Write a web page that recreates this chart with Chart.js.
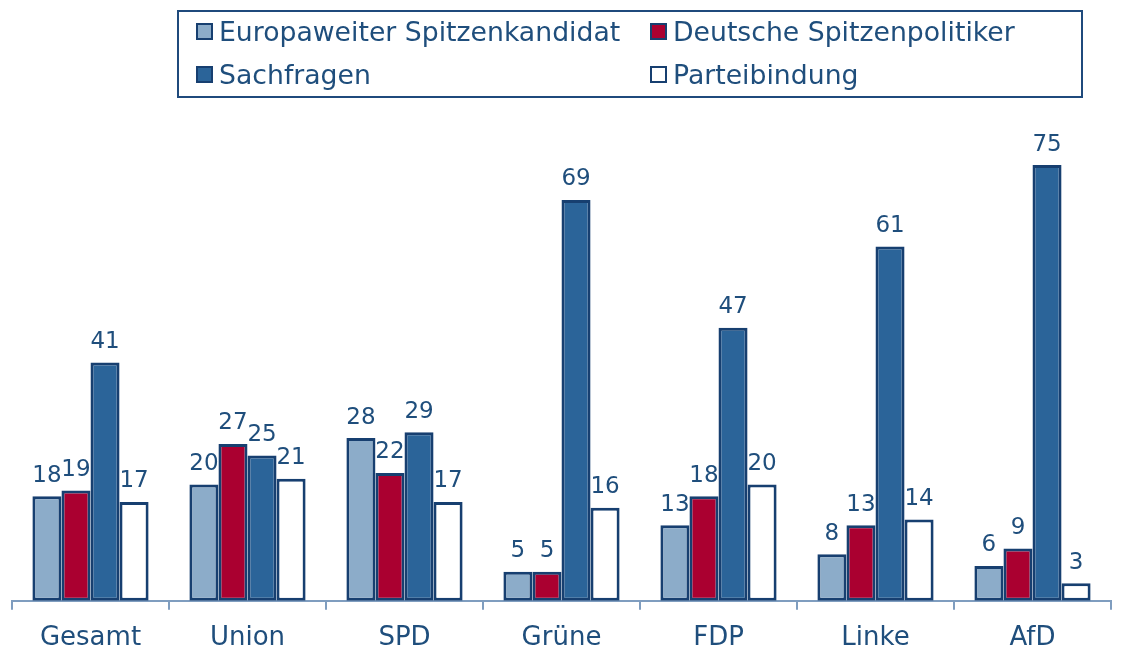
<!DOCTYPE html>
<html>
<head>
<meta charset="utf-8">
<script src="https://cdn.jsdelivr.net/npm/chart.js@4"></script>
<style>
  body { margin: 0; background: #fff; font-family: "DejaVu Sans", Verdana, sans-serif; }
  #wrap { position: relative; width: 1131px; height: 652px; overflow: hidden; }
  #legend {
    position: absolute; left: 177px; top: 10px; width: 902px; height: 84px;
    border: 2px solid #1f4a7c; color: #1f4e7c; font-size: 26.7px;
  }
  .item { position: absolute; height: 30px; line-height: 30px; white-space: nowrap; }
  .sw { display: inline-block; width: 13px; height: 13px; border: 2px solid #173f70; margin-right: 6px; vertical-align: 1px; }
</style>
</head>
<body>
<div id="wrap">
  <canvas id="chart" width="1131" height="652"></canvas>
  <div id="legend"></div>
</div>
<script>
const categories = ["Gesamt", "Union", "SPD", "Grüne", "FDP", "Linke", "AfD"];
const seriesNames = ["Europaweiter Spitzenkandidat", "Deutsche Spitzenpolitiker", "Sachfragen", "Parteibindung"];
const kandidat = [18, 20, 28, 5, 13, 8, 6];
const politiker = [19, 27, 22, 5, 18, 13, 9];
const sachfragen = [41, 25, 29, 69, 47, 61, 75];
const parteibindung = [17, 21, 17, 16, 20, 14, 3];

const fills = ["#8cacc9", "#aa0030", "#2b6499", "#ffffff"];
const edge = "#173f70";
const textColor = "#1f4e7c";

// legend (2 columns, boxed)
const legendPos = [[17, 5], [471, 5], [17, 48], [471, 48]];
const legendEl = document.getElementById("legend");
seriesNames.forEach((name, i) => {
    const d = document.createElement("div");
    d.className = "item";
    d.style.left = legendPos[i][0] + "px";
    d.style.top = legendPos[i][1] + "px";
    d.innerHTML = `<span class="sw" style="background:${fills[i]}"></span>${name}`;
    legendEl.appendChild(d);
});

const valueLabels = {
    id: "valueLabels",
    afterDatasetsDraw(chart) {
        const ctx = chart.ctx;
        ctx.save();
        ctx.font = "23px 'DejaVu Sans'";
        ctx.fillStyle = textColor;
        ctx.textAlign = "center";
        ctx.textBaseline = "bottom";
        chart.data.datasets.forEach((ds, i) => {
            chart.getDatasetMeta(i).data.forEach((bar, j) => {
                ctx.fillText(ds.data[j], bar.x, bar.y - 9);
            });
        });
        ctx.restore();
    }
};

const allData = [kandidat, politiker, sachfragen, parteibindung];

new Chart(document.getElementById("chart"), {
    type: "bar",
    data: {
        labels: categories,
        datasets: allData.map((d, i) => ({
            label: seriesNames[i],
            data: d,
            backgroundColor: fills[i],
            borderColor: edge,
            borderWidth: 3,
            borderSkipped: false,
            barPercentage: 1,
            categoryPercentage: 0.74
        }))
    },
    options: {
        responsive: false,
        animation: false,
        layout: { padding: { left: 12, right: 20, top: 136, bottom: -15 } },
        plugins: { legend: { display: false }, tooltip: { enabled: false } },
        scales: {
            y: { display: false, min: 0, max: 80 },
            x: {
                border: { color: "#7f9dbf", width: 2 },
                grid: { drawOnChartArea: false, offset: true, color: "#7f9dbf", tickLength: 9, lineWidth: 2 },
                ticks: { color: textColor, font: { family: "DejaVu Sans", size: 26 }, padding: 13 }
            }
        }
    },
    plugins: [valueLabels]
});
</script>
</body>
</html>
